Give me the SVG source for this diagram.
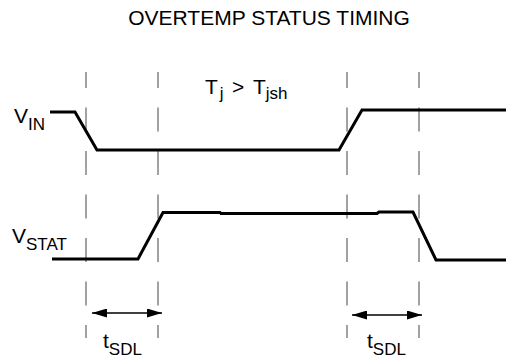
<svg xmlns="http://www.w3.org/2000/svg" width="506" height="362" viewBox="0 0 506 362">
<style>
text{font-family:"Liberation Sans",Arial,sans-serif;fill:#000}
.t{font-size:21px}
.s{font-size:17px}
.dash{stroke:#444;stroke-width:1;stroke-dasharray:24 19.5;stroke-dashoffset:8;fill:none}
.sig{stroke:#000;stroke-width:3;fill:none;stroke-linejoin:miter}
.arr{stroke:#000;stroke-width:1.5;fill:none}
</style>
<defs>
<marker id="ah" viewBox="0 0 15 9" refX="15" refY="4.5" markerWidth="15" markerHeight="9" markerUnits="userSpaceOnUse" orient="auto-start-reverse">
<path d="M0,0 L15,4.5 L0,9 Z" fill="#000"/>
</marker>
</defs>
<rect width="506" height="362" fill="#fff"/>
<g id="title"><text x="269" y="25" text-anchor="middle" class="t">OVERTEMP STATUS TIMING</text></g>
<g id="condition"><text x="205" y="94" class="t">T<tspan class="s" dy="5" dx="2">j</tspan><tspan dy="-5" x="232">&gt;</tspan><tspan x="253">T</tspan><tspan class="s" dy="5">jsh</tspan></text></g>
<g id="guides">
<line class="dash" x1="86" y1="72" x2="86" y2="338"/>
<line class="dash" x1="158" y1="72" x2="158" y2="338"/>
<line class="dash" x1="347" y1="72" x2="347" y2="338"/>
<line class="dash" x1="419" y1="72" x2="419" y2="338"/>
</g>
<g id="vin">
<text x="14" y="123" class="t">V<tspan class="s" dy="7">IN</tspan></text>
<polyline class="sig" points="50,112 75,112 97,150 339,150 362,110 506,110"/>
</g>
<g id="vstat">
<text x="12" y="243" class="t">V<tspan class="s" dy="7">STAT</tspan></text>
<polyline class="sig" points="52,259 138,259 163,212.5 220,212.5 221,213.5 377,213.5 379,212 413,212 436,260 506,260"/>
</g>
<g id="connectors">
<line class="arr" x1="92" y1="313" x2="162" y2="313" marker-start="url(#ah)" marker-end="url(#ah)"/>
<line class="arr" x1="352" y1="315" x2="422" y2="315" marker-start="url(#ah)" marker-end="url(#ah)"/>
</g>
<g id="tsdl1"><text x="103" y="348" class="t">t<tspan class="s" dy="7">SDL</tspan></text></g>
<g id="tsdl2"><text x="367" y="348" class="t">t<tspan class="s" dy="7">SDL</tspan></text></g>
</svg>
